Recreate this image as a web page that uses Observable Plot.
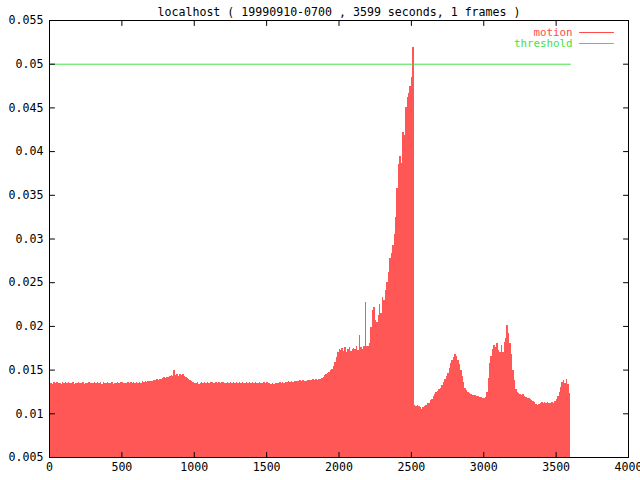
<!DOCTYPE html>
<html>
<head>
<meta charset="utf-8">
<script src="https://cdn.jsdelivr.net/npm/d3@7"></script>
<script src="https://cdn.jsdelivr.net/npm/@observablehq/plot@0.6"></script>
<style>
  html, body { margin: 0; padding: 0; background: #fff; }
  #chart { width: 640px; height: 480px; }
</style>
</head>
<body>
<div id="chart"></div>
<script>
const titleText = "localhost ( 19990910-0700 , 3599 seconds, 1 frames )";
const seriesNames = ["motion", "threshold"];
const motionStart = 0;     // seconds
const motionStep = 10;     // seconds per sample
const motionValues = [
  0.01345,0.01352,0.01340,0.01355,0.01348,0.01360,0.01342,0.01350,0.01338,0.01356,
  0.01347,0.01353,0.01341,0.01358,0.01344,0.01350,0.01362,0.01339,0.01351,0.01346,
  0.01355,0.01343,0.01349,0.01360,0.01338,0.01352,0.01345,0.01357,0.01341,0.01350,
  0.01348,0.01359,0.01342,0.01353,0.01346,0.01361,0.01340,0.01354,0.01349,0.01343,
  0.01356,0.01345,0.01351,0.01362,0.01339,0.01350,0.01347,0.01358,0.01344,0.01353,
  0.01360,0.01346,0.01352,0.01341,0.01357,0.01349,0.01363,0.01344,0.01355,0.01350,
  0.01358,0.01347,0.01362,0.01352,0.01366,0.01355,0.01368,0.01360,0.01372,0.01365,
  0.01375,0.01370,0.01382,0.01378,0.01390,0.01384,0.01398,0.01392,0.01405,0.01415,
  0.01408,0.01420,0.01412,0.01428,0.01435,0.01422,0.01498,0.01440,0.01455,0.01432,
  0.01448,0.01438,0.01445,0.01425,0.01418,0.01402,0.01390,0.01378,0.01370,0.01360,
  0.01352,0.01345,0.01358,0.01340,0.01350,0.01362,0.01343,0.01355,0.01348,0.01357,
  0.01346,0.01353,0.01360,0.01342,0.01351,0.01356,0.01344,0.01359,0.01349,0.01354,
  0.01361,0.01345,0.01352,0.01358,0.01341,0.01356,0.01350,0.01363,0.01347,0.01355,
  0.01349,0.01360,0.01344,0.01357,0.01352,0.01346,0.01362,0.01351,0.01358,0.01343,
  0.01355,0.01348,0.01361,0.01350,0.01345,0.01357,0.01352,0.01346,0.01359,0.01349,
  0.01353,0.01344,0.01350,0.01340,0.01347,0.01335,0.01346,0.01352,0.01342,0.01356,
  0.01350,0.01358,0.01346,0.01361,0.01353,0.01365,0.01357,0.01368,0.01362,0.01370,
  0.01366,0.01374,0.01369,0.01378,0.01372,0.01380,0.01375,0.01368,0.01382,0.01376,
  0.01384,0.01378,0.01388,0.01380,0.01392,0.01386,0.01390,0.01398,0.01405,0.01420,
  0.01440,0.01452,0.01462,0.01475,0.01490,0.01505,0.01540,0.01585,0.01640,0.01700,
  0.01735,0.01722,0.01745,0.01718,0.01760,0.01702,0.01730,0.01755,0.01712,0.01740,
  0.01752,0.01738,0.01765,0.01728,0.01900,0.01755,0.01740,0.01772,0.02270,0.01768,
  0.01775,0.01800,0.01990,0.02180,0.02220,0.02070,0.02050,0.02120,0.02250,0.02150,
  0.02330,0.02300,0.02410,0.02500,0.02620,0.02780,0.02830,0.02930,0.03050,0.03250,
  0.03580,0.03850,0.03940,0.03860,0.04220,0.04180,0.04500,0.04620,0.04660,0.04750,
  0.04850,0.05190,0.01090,0.01085,0.01092,0.01080,0.01075,0.01050,0.01070,0.01088,
  0.01100,0.01115,0.01120,0.01150,0.01165,0.01200,0.01225,0.01240,0.01260,0.01275,
  0.01290,0.01320,0.01360,0.01390,0.01430,0.01460,0.01520,0.01580,0.01610,0.01640,
  0.01680,0.01660,0.01610,0.01560,0.01500,0.01430,0.01360,0.01290,0.01270,0.01240,
  0.01230,0.01222,0.01215,0.01208,0.01212,0.01200,0.01195,0.01188,0.01192,0.01180,
  0.01180,0.01190,0.01240,0.01400,0.01580,0.01660,0.01740,0.01780,0.01760,0.01800,
  0.01720,0.01700,0.01780,0.01700,0.01820,0.01860,0.02010,0.01920,0.01800,0.01680,
  0.01500,0.01380,0.01280,0.01240,0.01230,0.01220,0.01210,0.01220,0.01200,0.01190,
  0.01180,0.01170,0.01160,0.01150,0.01140,0.01130,0.01110,0.01100,0.01110,0.01120,
  0.01130,0.01120,0.01130,0.01120,0.01130,0.01120,0.01120,0.01130,0.01120,0.01140,
  0.01160,0.01200,0.01240,0.01300,0.01360,0.01380,0.01350,0.01390,0.01340,0.01230
];
const thresholdTimes = [0, 3599];
const thresholdValues = [0.05, 0.05];
const xTicks = [0, 500, 1000, 1500, 2000, 2500, 3000, 3500, 4000];
const yTicks = [0.005, 0.01, 0.015, 0.02, 0.025, 0.03, 0.035, 0.04, 0.045, 0.05, 0.055];
const yTickLabels = ["0.005", "0.01", "0.015", "0.02", "0.025", "0.03", "0.035", "0.04", "0.045", "0.05", "0.055"];

const motion = motionValues.map((v, i) => ({
  t0: motionStart + i * motionStep,
  t1: motionStart + (i + 1) * motionStep,
  v
}));
const threshold = thresholdTimes.map((t, i) => ({t, v: thresholdValues[i]}));

const RED_FILL = "#ff5656";
const RED_LINE = "#ff4a4a";
const GREEN = "#44e044";

// a plain straight stroke, used for inward ticks and legend samples
const lineShape = {
  draw(context, l) { context.moveTo(0, 0); context.lineTo(0, -l); }
};
const tick = (data, opts) => Plot.vector(data, {length: 5, anchor: "start", shape: lineShape, stroke: "#000", strokeWidth: 1, ...opts});

const chart = Plot.plot({
  width: 640,
  height: 480,
  marginLeft: 49,
  marginRight: 12,
  marginTop: 20,
  marginBottom: 23,
  style: {fontFamily: "'DejaVu Sans Mono', monospace", fontSize: "11.6px", background: "#fff", color: "#000"},
  x: {domain: [0, 4000], label: null},
  y: {domain: [0.005, 0.055], label: null},
  marks: [
    Plot.rectY(motion, {x1: "t0", x2: "t1", y: "v", fill: RED_FILL, clip: true, shapeRendering: "crispEdges"}),
    Plot.line(threshold, {x: "t", y: "v", stroke: GREEN, strokeWidth: 1}),
    Plot.frame({stroke: "#000"}),
    // tick labels
    Plot.axisX(xTicks, {anchor: "bottom", tickSize: 0, tickPadding: 5, label: null, tickFormat: d => String(d)}),
    Plot.axisY(yTicks, {anchor: "left", tickSize: 0, tickPadding: 6, label: null, tickFormat: d => yTickLabels[yTicks.indexOf(d)]}),
    // inward ticks on all four sides
    tick(xTicks, {x: d => d, frameAnchor: "bottom", rotate: 0}),
    tick(xTicks, {x: d => d, frameAnchor: "top", rotate: 180}),
    tick(yTicks, {y: d => d, frameAnchor: "left", rotate: 90}),
    tick(yTicks, {y: d => d, frameAnchor: "right", rotate: -90}),
    // title
    Plot.text([titleText], {frameAnchor: "top", lineAnchor: "middle", dy: -8, fill: "#000"}),
    // legend
    Plot.text([seriesNames[0]], {frameAnchor: "top-right", lineAnchor: "middle", textAnchor: "end", dx: -56, dy: 12, fontSize: 10.8, fill: RED_LINE}),
    Plot.text([seriesNames[1]], {frameAnchor: "top-right", lineAnchor: "middle", textAnchor: "end", dx: -56, dy: 23, fontSize: 10.8, fill: GREEN}),
    Plot.vector([seriesNames[0]], {frameAnchor: "top-right", dx: -32, dy: 12, length: 34, rotate: 90, anchor: "middle", shape: lineShape, stroke: RED_LINE, strokeWidth: 1}),
    Plot.vector([seriesNames[1]], {frameAnchor: "top-right", dx: -32, dy: 23, length: 34, rotate: 90, anchor: "middle", shape: lineShape, stroke: GREEN, strokeWidth: 1})
  ]
});
document.getElementById("chart").appendChild(chart);
</script>
</body>
</html>
